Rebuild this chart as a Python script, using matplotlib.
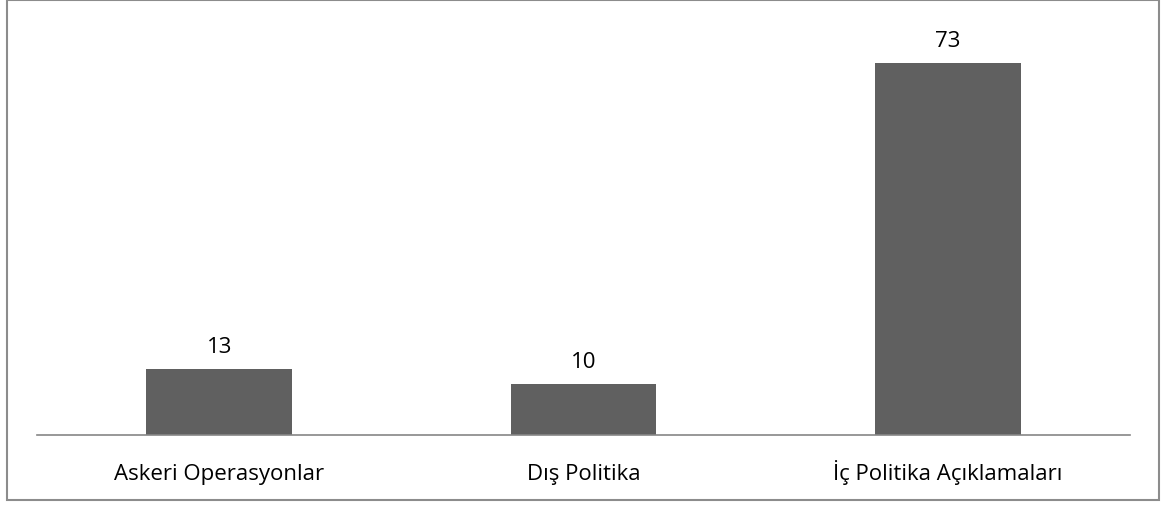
import matplotlib
matplotlib.use("Agg")
import matplotlib.pyplot as plt
from matplotlib.patches import Rectangle

categories = ["Askeri Operasyonlar", "Dış Politika", "İç Politika Açıklamaları"]
values = [13, 10, 73]

W, H = 1171, 506
fig = plt.figure(figsize=(W / 100, H / 100), dpi=100)
plt.rcParams['font.family'] = ['Open Sans', 'DejaVu Sans']

ax_left, ax_right = 37, 1130
ax_bottom, ax_top = 436, 28
ax = fig.add_axes([ax_left / W, 1 - ax_bottom / H, (ax_right - ax_left) / W, (ax_bottom - ax_top) / H])

x = list(range(len(categories)))
bars = ax.bar(x, values, width=0.4, color="#606060", zorder=2)
ax.set_xlim(-0.5, len(categories) - 0.5)
ax.set_ylim(0, 80)

for xi, v in zip(x, values):
    ax.annotate(str(v), (xi, v), xytext=(0, 12), textcoords="offset points",
                ha="center", va="baseline", fontsize=16, color="#000000")

ax.set_xticks(x)
ax.set_xticklabels(categories, fontsize=16)
ax.tick_params(axis="x", length=0, pad=31.5)
for lbl in ax.get_xticklabels():
    lbl.set_va("baseline")
ax.set_yticks([])
for s in ["top", "right", "left"]:
    ax.spines[s].set_visible(False)
ax.spines["bottom"].set_color("#868686")
ax.spines["bottom"].set_linewidth(1.2)

border = Rectangle((6.5 / W, 1 - 500.5 / H), (1158.5 - 6.5) / W, (500.5 - 0.5) / H,
                   transform=fig.transFigure, fill=False, edgecolor="#8c8c8c", linewidth=1.5)
fig.patches.append(border)

fig.savefig("out.png", dpi=100)
